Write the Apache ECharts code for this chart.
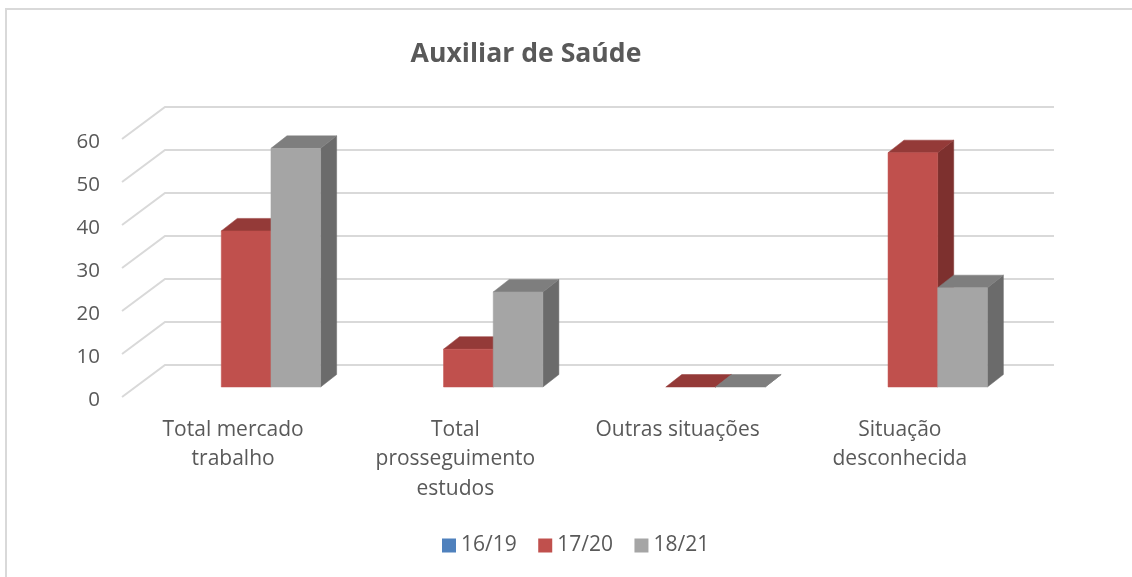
<!DOCTYPE html>
<html><head><meta charset="utf-8">
<style>html,body{margin:0;padding:0;background:#fff}#c{width:1132px;height:577px}</style>
<script src="https://cdn.jsdelivr.net/npm/echarts@6/dist/echarts.min.js"></script>
</head><body><div id="c"></div>
<script>
var categories = ['Total mercado\ntrabalho', 'Total\nprosseguimento\nestudos', 'Outras situações', 'Situação\ndesconhecida'];
var values1619 = [null, null, null, null];
var values1720 = [36.3, 8.8, 0, 54.5];
var values1821 = [55.5, 22.1, 0, 23.1];
var yTicks = [0, 10, 20, 30, 40, 50, 60];

var FONT = '"Open Sans", sans-serif';
var TEXT = '#595959';
var WALL = [43, -32];      // side-wall depth
var BAR_SHIFT = [13, -10]; // bars stand part-way into the floor
var BAR_DEPTH = [16, -12.5];
var BAR_RATIO = 0.2235;

function wallItem(params, api) {
  var cs = params.coordSys;
  var y = api.coord([0, api.value(0)])[1];
  return {
    type: 'polyline', silent: true,
    shape: { points: [[cs.x, y], [cs.x + WALL[0], y + WALL[1]], [cs.x + cs.width + WALL[0], y + WALL[1]]] },
    style: { fill: null, stroke: '#d9d9d9', lineWidth: 2 }
  };
}
function barRenderer(slot, front, top, side) {
  return function (params, api) {
    var v = api.value(1);
    if (v == null || isNaN(v)) return;
    var w = api.size([1, 0])[0] * BAR_RATIO;
    var c = api.coord([api.value(0), v]);
    var base = api.coord([api.value(0), 0]);
    var x0 = c[0] + BAR_SHIFT[0] + (slot - 1.5) * w;
    var x1 = x0 + w;
    var yT = c[1] + BAR_SHIFT[1];
    var yB = base[1] + BAR_SHIFT[1];
    var dx = BAR_DEPTH[0], dy = BAR_DEPTH[1];
    var kids = [];
    function poly(pts, fill) {
      kids.push({ type: 'polygon', shape: { points: pts }, style: { fill: fill, stroke: fill, lineWidth: 0.5 } });
    }
    poly([[x1, yT], [x1 + dx, yT + dy], [x1 + dx, yB + dy], [x1, yB]], side);
    poly([[x0, yT], [x0 + dx, yT + dy], [x1 + dx, yT + dy], [x1, yT]], top);
    if (yB > yT) poly([[x0, yT], [x1, yT], [x1, yB], [x0, yB]], front);
    return { type: 'group', children: kids };
  };
}
function barSeries(name, values, slot, front, top, side) {
  return {
    name: name, type: 'custom', coordinateSystem: 'cartesian2d',
    renderItem: barRenderer(slot, front, top, side),
    itemStyle: { color: front },
    encode: { x: 0, y: 1 },
    data: values.map(function (v, i) { return [i, v]; }),
    z: 3 + slot
  };
}
var chart = echarts.init(document.getElementById('c'), null, { renderer: 'canvas' });
chart.setOption({
  animation: false,
  backgroundColor: '#fff',
  title: {
    text: 'Auxiliar de Saúde', left: 521, top: 36, textAlign: 'center',
    textStyle: { fontFamily: FONT, fontSize: 26.6, fontWeight: 'bold', color: TEXT }
  },
  legend: {
    left: 437, top: 530, itemWidth: 14, itemHeight: 14, itemGap: 21.5, icon: 'rect',
    data: ['16/19', '17/20', '18/21'],
    textStyle: { fontFamily: FONT, fontSize: 21, color: TEXT }
  },
  grid: { left: 122, right: 121, top: 139, height: 258 },
  xAxis: {
    type: 'category', data: categories,
    axisLine: { show: false }, axisTick: { show: false }, splitLine: { show: false },
    axisLabel: { interval: 0, margin: 18, lineHeight: 29.5, verticalAlign: 'top', fontFamily: FONT, fontSize: 21, color: TEXT }
  },
  yAxis: {
    type: 'value', min: 0, max: 60, interval: 10,
    axisLine: { show: false }, axisTick: { show: false }, splitLine: { show: false },
    axisLabel: {
      margin: 22, formatter: '{n|{value}}', fontFamily: FONT, fontSize: 20.5, color: TEXT,
      rich: { n: { fontFamily: FONT, fontSize: 20.5, color: TEXT, padding: [6, 0, 0, 0] } }
    }
  },
  graphic: [{
    type: 'polyline', silent: true, z: -1,
    shape: { points: [[6, 577], [6, 9], [1132, 9]] },
    style: { fill: null, stroke: '#d9d9d9', lineWidth: 2 }
  }],
  series: [
    { name: '_walls', type: 'custom', coordinateSystem: 'cartesian2d', renderItem: wallItem,
      encode: { y: 0 }, data: yTicks.map(function (t) { return [t]; }), silent: true, z: 1 },
    barSeries('16/19', values1619, 0, '#4F81BD', '#3A6090', '#2F4F78'),
    barSeries('17/20', values1720, 1, '#C0504D', '#943A38', '#7D302E'),
    barSeries('18/21', values1821, 2, '#A5A5A5', '#7E7E7E', '#6B6B6B')
  ]
});
</script></body></html>
